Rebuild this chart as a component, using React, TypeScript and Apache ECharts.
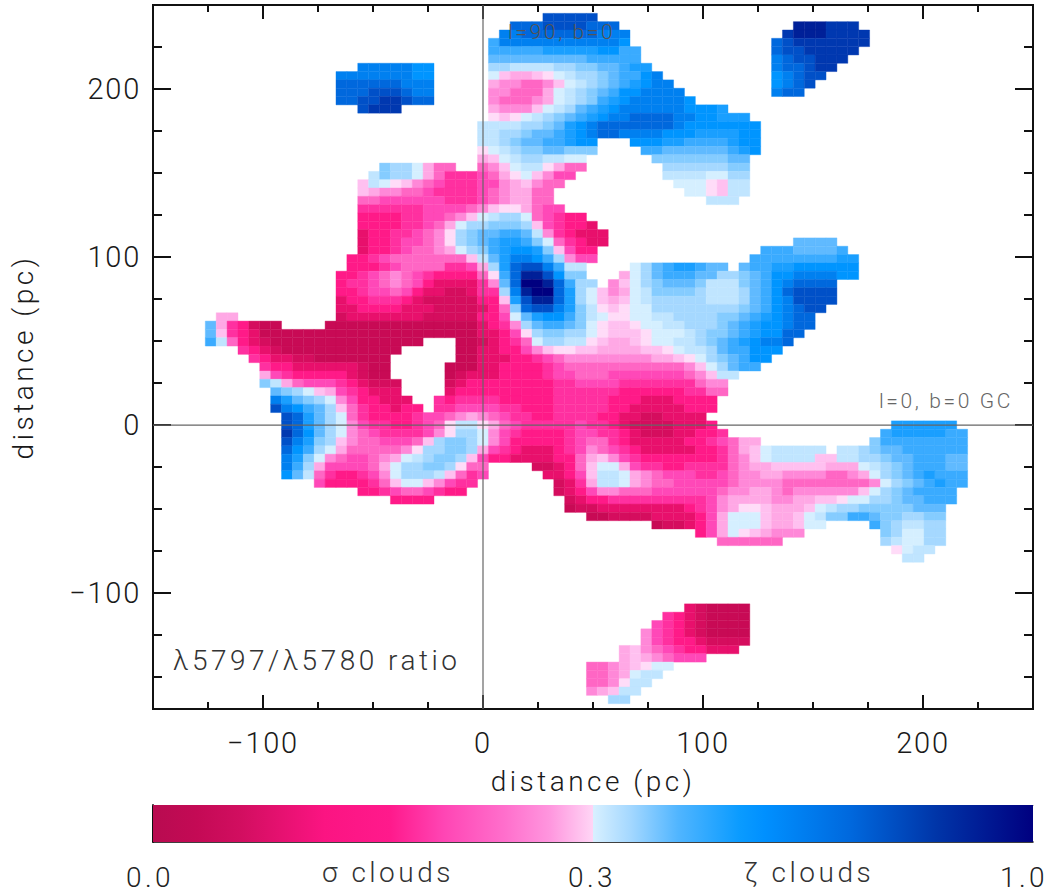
import React, { useEffect, useRef } from "react";
import * as echarts from "echarts";

// Each row is a line of the map, top to bottom. "col:letters" = run of cells from a column.
const rowsTop = [
  "31:vvvvv",
  "28:uuuvvvvuuu 54:xxxwww",
  "27:ttuuuuuuuttt 53:wxxxwwww",
  "26:qttttttttttts 52:uvwwwwwww",
  "26:qqqqqrrrrrssqq 52:uvvwwwww",
  "26:pppppppppqqqqq 52:tuvvwww",
  "14:tttttss 26:nnmmmmnnooppqrr 52:tuuvww",
  "12:tttttttss 26:ljiijklmnnopqqst 52:stuvv",
  "12:uuuuuuttt 26:ihhgghjlmnopqrstt 52:stuv",
  "12:uuuvvvutt 26:hhgggilmnopqsstttt 52:tuu",
  "12:uuvvwwvuu 26:hggghilmnoqrsttttts",
  "14:vwww 26:ihhhjlmnpqrsttttttsssr",
  "26:kjklmnopqrsttuuuuttssrrr",
  "25:mmmmnnoprstuuuuuuutsssssss",
  "25:mmnnoppqrstuuttttsssrrrrss",
  "25:mmnoppqqrss 39:sssrrqqqqrss",
  "25:klmnooppooo 40:qqppppppqrs",
  "25:ijlmnnmmll 41:ooooooopp",
  "16:onnligg 25:ghjlmmkigg 42:nnnnnnoo",
  "15:monnligeee 25:fgikljhff 42:mmmmllnn",
  "14:jmlkjhgfeeeffhijhgg 43:lllkjmm",
  "14:jihhggfeeeefghiigg 44:llkjmm",
  "14:ggffffffeeefghiigg 46:mmm",
  "14:eeeeeeffffghjkkigff",
  "14:ddddeeffghjlmnnlgfedd",
  "14:ddddeefgilnnooonjfeddc",
  "14:cddeefghknoppqqpmhedccc",
  "14:cddeffghknopqrrqolgedcc 54:pppp",
];
const rowsMiddle = [
  "14:cddefgghilnoqrssrojfdd 51:qqqppppq",
  "13:ddefgggggggjmprttsqnhff 50:qqqqqqqqrr",
  "13:dddefggggeefinruvvtqmm 39:lnpqrrqpp 49:pqqrrssssss",
  "12:ddefghgfeddddgkquxxvsoo 38:ilnpqqqppnnopqssttttss",
  "12:deefghgfdccccehpuyyxuqnn 37:hjlnopppommmopqstuuuu",
  "12:ddeffgfdccbbceentxyyurnljhilmoooonmmmnpqsuvvvv",
  "12:cddeeedcbbbbbddjrvxxurnljijlmnnnnnmmmnpqstvvvv",
  "12:ccddddcccbbbbcdgouvvtromkjkllnnnnnnnnopqstuvv",
  "1:ii 12:bcccccccbbbbbddflprssqomlkkllmmnnnnoopqrstuu",
  "0:piedbaa 11:aaaaaaaaaaaaaacdehnpqqpolkjjkllmmnnnopqrsstuu",
  "0:pjedcaaaaaaaaaaaaaaaaaaaaccdfknoonnlkjjjklllmnoopqrssuu",
  "0:qmgdcbaaaaaaaaaaaaaa 23:aabcdeglnnmmkjiijkllmmnopqrsttu",
  "3:edcbaaaaaaaaaaa 23:aaccddfhjkkjjiiiijjklmmnpqqsss",
  "4:edccbbaaaaaaa 23:aacccddefghhhhhhhhiijklnopqss",
  "5:eddccccccbaa 22:aaaccddddefggggggggggghjlnpqq",
  "5:ifedddddcbaa 22:abcccddddeffgggfffffffghjmm",
  "5:omigfffedcbbb 22:bcddddddddeeffffeeeeeeeghh",
  "6:ponljifedccc 22:cdddddddddeeeeeeddddddeegg",
  "6:trponlhfddccc 21:edeeeedddddeeeeedddcccdddd",
  "6:vtsqpnjgeddcdd 21:eeffffeedddeeeeeddcccccddd",
  "7:vurpnlgeddddeffghihgfeeddeeeeddccbbcccc",
  "7:vurpnlhfeeddefgkmmkigfeeeeefeedcbbbbcccd 63:rrrrrr",
  "7:wuspnlhgfeeeefhknnlhfeddddeffeedcbbbccdde 62:qrrrrrqq",
  "7:vtronjhggfffgjnoonlhfdddddefggedcccccddefgii 61:oqqqqqqqq",
];
const rowsBottom = [
  "7:usqnliggggghknnoonifedcccdefhgfedcccccddegijlmmmmm 58:mmnoppqqqqqq",
  "7:trolhgffghilmnoonjfddccccddgijhfedddddddeghjlmmmmjjmmnnoppqqqpp",
  "7:tqniffffgilnnoonkgg 30:bbcdgjllifeeddeeeeghiijjjjjiiilmnopqqqpp",
  "7:spmgeddefhlnnnmjgef 31:ccdfjmmlihgfffeefghhiihhhhgghilnopqrqqq",
  "10:fddddegjlljhfee 32:bceimmlihggfffffghhhhgggggggghlnopqrqq",
  "14:ddefggfedd 32:bcdfhhgggffffffghhiihghhhhhhjlnopqqqq",
  "17:dddd 33:bcddeeeeeeeeefhiiiihhiijjkllnnoppqqq",
  "33:abbccccccccdefhikkjiiijlmnnoooooppp",
  "35:aabbbbccccdfillljiijlmooqqpoonnoo",
  "41:abbcdfillljiijll 61:qonmmnn",
  "45:dfilkjihhh 62:onllnn",
  "47:gggggg 62:nmllnn",
  "63:klmm",
  "64:mm",
  "",
  "",
  "",
  "",
  "",
  "44:cbaaaa",
  "42:edcbaaaa",
  "41:fedcbaaaa",
  "40:hfedcbaaaa",
  "40:hfeddcbbbb",
  "38:ijhgfeddccc",
  "38:ijihgfff",
  "35:gghijkll",
  "35:gghilmm",
  "35:gghkmm",
  "35:hijmm",
  "37:nn",
];

const levelKeys = "abcdefghijklmnopqrstuvwxy";
const levelColors = [
  "#c80a55", "#d50d5e", "#e8106c", "#ff1a88", "#ff30a0", "#ff48b8", "#ff66c4", "#ff88d8", "#ffa8e5", "#ffc0f0", "#ffdcf8",
  "#d5efff", "#c0e5ff", "#a5d8ff", "#85ccff", "#60baff", "#3aabff", "#1a9fff", "#0095ff", "#0080f0", "#0068dd", "#0050c8", "#0038b0", "#002098", "#000080",
];
const colorbarStops: [number, string][] = [
  [0, "#b80b50"], [0.05, "#c40a55"], [0.1, "#d20e60"], [0.195, "#fb1482"], [0.27, "#ff1a8c"], [0.33, "#ff45b4"], [0.4, "#ff6fcc"],
  [0.45, "#ff95de"], [0.4999, "#ffd5f5"], [0.5, "#d8f0ff"], [0.542, "#a5d8ff"], [0.597, "#50b5ff"], [0.667, "#0a9bff"], [0.695, "#0090ff"],
  [0.793, "#0068dd"], [0.89, "#0035a8"], [1, "#000080"],
];

const xMajorTicks = [-100, 0, 100, 200];
const xMinorTicks = [-125, -75, -50, -25, 25, 50, 75, 125, 150, 175, 225];
const yMajorTicks = [-100, 0, 100, 200];
const yMinorTicks = [-150, -125, -75, -50, -25, 25, 50, 75, 125, 150, 175, 225];
const barMinorTicks = [0.0985, 0.197, 0.2955, 0.394, 0.597, 0.695, 0.793, 0.89];
const barMajorTicks = [0.5];

const CELL = 4.95;
const FONT = "Roboto";
const INK = "#1a1a1a";

function buildCells() {
  const rows = [...rowsTop, ...rowsMiddle, ...rowsBottom];
  const cells: number[][] = [];
  rows.forEach((row, j) => {
    row.split(" ").filter(Boolean).forEach((run) => {
      const [start, letters] = run.split(":");
      [...letters].forEach((ch, i) => {
        cells.push([(Number(start) + i - 25) * CELL, (49 - j) * CELL, levelKeys.indexOf(ch)]);
      });
    });
  });
  return cells;
}

function tickAxis(position: string, values: number[], len: number, extent: number[], grid = 0, extra: any = {}) {
  return {
    type: "value",
    gridIndex: grid,
    position,
    min: extent[0],
    max: extent[1],
    splitLine: { show: false },
    axisLine: { show: true, onZero: false, lineStyle: { color: "#111", width: 2 } },
    axisTick: { show: true, inside: true, length: len, customValues: values, lineStyle: { color: "#111", width: 2 } },
    axisLabel: { show: false },
    ...extra,
  };
}

export default function App() {
  const ref = useRef<HTMLDivElement>(null);
  useEffect(() => {
    const chart = echarts.init(ref.current!, undefined, { renderer: "svg" });
    const xExt = [-150, 250];
    const yExt = [-169, 250];
    const mainLabel = { show: true, fontFamily: FONT, fontWeight: 300, fontSize: 29, color: INK, formatter: (v: number) => (v < 0 ? "\u2212" + Math.abs(v) : String(v)) };
    const nameStyle = { fontFamily: FONT, fontWeight: 300, fontSize: 28, color: INK };
    const text = (t: string, left: number, top: number, size: number, color: string, align = "left") => ({
      type: "text", x: left, y: top, z: 50,
      style: { text: t, fontFamily: FONT, fontWeight: 300, fontSize: size, fill: color, align, verticalAlign: "middle" },
    });
    chart.setOption({
      animation: false,
      backgroundColor: "#fff",
      grid: [
        { left: 153, top: 5, width: 880, height: 704, outerBoundsMode: "none" },
        { left: 153, top: 805, width: 880, height: 37, outerBoundsMode: "none" },
      ],
      xAxis: [
        tickAxis("bottom", xMajorTicks, 14, xExt, 0, {
          axisLabel: { ...mainLabel, margin: 19, customValues: xMajorTicks },
          name: "distance (pc)", nameLocation: "middle", nameGap: 58, nameTextStyle: nameStyle,
        }),
        tickAxis("bottom", xMinorTicks, 7, xExt),
        tickAxis("top", xMajorTicks, 14, xExt),
        tickAxis("top", xMinorTicks, 7, xExt),
        tickAxis("bottom", barMinorTicks, 4, [0, 1], 1, { axisLine: { show: true, onZero: false, lineStyle: { color: "#000", width: 1.5 } }, axisTick: { show: true, inside: true, length: 4, customValues: barMinorTicks, lineStyle: { color: "#111", width: 1 } } }),
        tickAxis("bottom", barMajorTicks, 9, [0, 1], 1, { axisLine: { show: false }, axisTick: { show: true, inside: true, length: 9, customValues: barMajorTicks, lineStyle: { color: "#111", width: 1 } } }),
        tickAxis("top", barMinorTicks, 2, [0, 1], 1, { axisLine: { show: true, onZero: false, lineStyle: { color: "#555", width: 1 } }, axisTick: { show: true, inside: true, length: 2, customValues: barMinorTicks, lineStyle: { color: "#555", width: 1 } } }),
      ],
      yAxis: [
        tickAxis("left", yMajorTicks, 18, yExt, 0, {
          axisLabel: { ...mainLabel, margin: 12, customValues: yMajorTicks },
          name: "distance (pc)", nameLocation: "middle", nameGap: 116, nameRotate: 90, nameTextStyle: nameStyle,
        }),
        tickAxis("left", yMinorTicks, 9, yExt),
        tickAxis("right", yMajorTicks, 18, yExt),
        tickAxis("right", yMinorTicks, 9, yExt),
        { type: "value", gridIndex: 1, position: "left", min: 0, max: 1, axisLine: { show: true, lineStyle: { color: "#000", width: 1.5 } }, axisTick: { show: false }, axisLabel: { show: false }, splitLine: { show: false } },
        { type: "value", gridIndex: 1, position: "right", min: 0, max: 1, axisLine: { show: true, lineStyle: { color: "#000", width: 1.5 } }, axisTick: { show: false }, axisLabel: { show: false }, splitLine: { show: false } },
      ],
      series: [
        {
          type: "custom", xAxisIndex: 0, yAxisIndex: 0, z: 2, clip: true,
          data: buildCells(),
          renderItem: (_: any, api: any) => {
            const x = api.value(0), y = api.value(1);
            const a = api.coord([x - CELL / 2, y + CELL / 2]);
            const b = api.coord([x + CELL / 2, y - CELL / 2]);
            const c = levelColors[api.value(2)];
            return { type: "rect", shape: { x: a[0], y: a[1], width: b[0] - a[0], height: b[1] - a[1] }, style: { fill: c, stroke: c, lineWidth: 0.4 } };
          },
        },
        { type: "line", xAxisIndex: 0, yAxisIndex: 0, z: 5, symbol: "none", silent: true, lineStyle: { color: "#666", width: 1.2 }, data: [[0, yExt[0]], [0, yExt[1]]] },
        { type: "line", xAxisIndex: 0, yAxisIndex: 0, z: 5, symbol: "none", silent: true, lineStyle: { color: "#666", width: 1.2 }, data: [[xExt[0], 0], [xExt[1], 0]] },
        {
          type: "custom", xAxisIndex: 4, yAxisIndex: 4, z: 1,
          data: [[0, 1]],
          renderItem: (_: any, api: any) => {
            const a = api.coord([0, 1]);
            const b = api.coord([1, 0]);
            return {
              type: "rect", shape: { x: a[0], y: a[1], width: b[0] - a[0], height: b[1] - a[1] },
              style: { fill: new echarts.graphic.LinearGradient(0, 0, 1, 0, colorbarStops.map(([offset, color]) => ({ offset, color }))) },
            };
          },
        },
      ],
      graphic: [
        text("l=90, b=0", 508, 32, 21, "#555"),
        text("l=0, b=0 GC", 879, 401, 21, "#666"),
        text("\u03bb5797/\u03bb5780 ratio", 173, 660, 28, "#333"),
        text("0.0", 150, 877, 28, "#222", "center"),
        text("\u03c3 clouds", 322, 872, 28, "#333"),
        text("0.3", 592, 877, 28, "#222", "center"),
        text("\u03b6 clouds", 744, 872, 28, "#333"),
        text("1.0", 1024, 877, 28, "#222", "center"),
      ],
    });
    return () => chart.dispose();
  }, []);
  return (
    <>
      <style>{`#map text{letter-spacing:.125em} #map text[style*="29px"]{letter-spacing:.06em}`}</style>
      <div id="map" ref={ref} style={{ position: "fixed", left: 0, top: 0, width: 1063, height: 894, background: "#fff" }} />
    </>
  );
}
